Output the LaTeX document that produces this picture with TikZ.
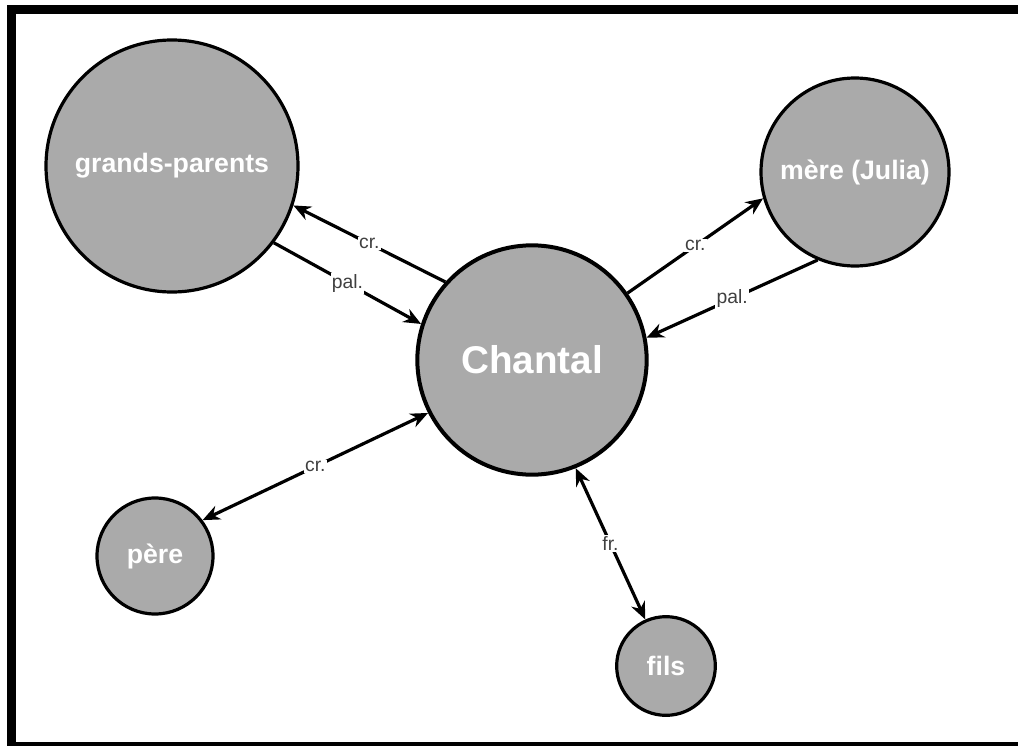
\documentclass[tikz,border=0pt]{standalone}
\usepackage{fontspec}
\setmainfont{Liberation Sans}
\usepackage{tikz}
\usetikzlibrary{arrows.meta}
\definecolor{nodegray}{HTML}{AAAAAA}
\definecolor{labelgray}{HTML}{404040}

\begin{document}
\begin{tikzpicture}[x=0.75pt, y=-0.75pt, >={Stealth[length=13pt, width=11pt]},
    person/.style={circle, draw=black, line width=2.4pt, fill=nodegray,
      text=white, inner sep=0pt, font=\bfseries\fontsize{20}{24}\selectfont},
    centre/.style={person, line width=3pt, font=\bfseries\fontsize{29}{34}\selectfont},
    rel/.style={->, line width=2.4pt},
    lab/.style={fill=white, text=labelgray, inner sep=1pt,
      font=\fontsize{14.5}{17}\selectfont},
  ]
    \useasboundingbox (0,0) rectangle (1018,746);
    \clip (0,0) rectangle (1018,746);

    % outer frame (cut off on the right)
    \draw[line width=6.4pt] (1040,9.3) -- (11.7,9.3) -- (11.7,746) -- (1040,746);

    % people
    \node[centre] (chantal) at (532,360) [minimum size=172pt] {Chantal};
    \node[person] (gp)      at (172,166) [minimum size=189pt] {grands-parents};
    \node[person] (mere)    at (855,172) [minimum size=141pt] {mère (Julia)};
    \node[person] (pere)    at (155,556) [minimum size=87pt]  {père};
    \node[person] (fils)    at (666,666) [minimum size=74pt]  {fils};

    % relations
    \draw[rel] (chantal.138) -- node[lab] {cr.} (gp.-18);
    \draw[rel] (gp.-37) -- node[lab] {pal.} (chantal.162);
    \draw[rel] (chantal.35) -- node[lab] {cr.} (mere.196);
    \draw[rel] (mere.247) -- node[lab] {pal.} (chantal.11);
    \draw[rel, <->] (pere.37) -- node[lab] {cr.} (chantal.207);
    \draw[rel, <->] (chantal.-68) -- node[lab] {fr.} (fils.114);
\end{tikzpicture}
\end{document}
